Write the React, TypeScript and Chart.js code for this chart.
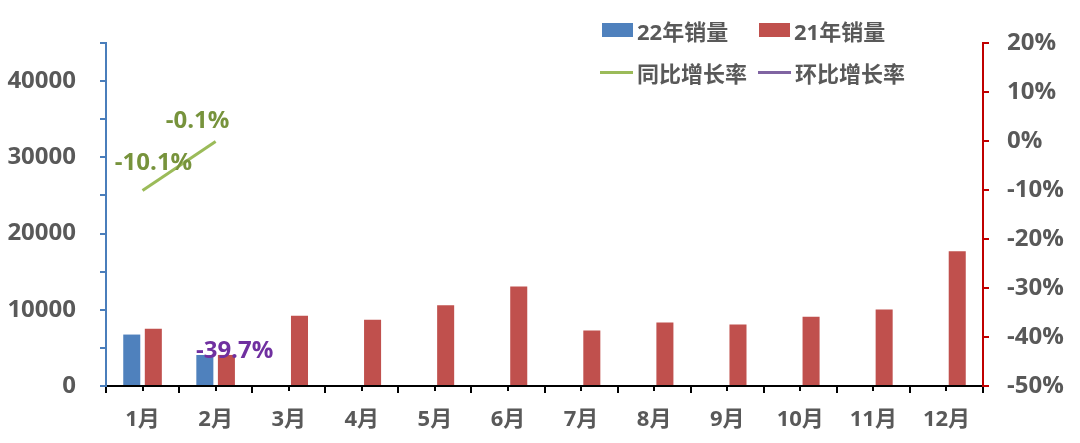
import { useEffect, useRef } from "react";
import { Chart, registerables } from "chart.js";

Chart.register(...registerables);

const FONT = "'Open Sans', 'Noto Sans CJK SC', sans-serif";
const TEXT = "#595959";

const months = ["1月", "2月", "3月", "4月", "5月", "6月", "7月", "8月", "9月", "10月", "11月", "12月"];
const sales22 = [6750, 4070, null, null, null, null, null, null, null, null, null, null];
const sales21 = [7510, 4075, 9210, 8680, 10610, 13070, 7280, 8330, 8070, 9080, 10040, 17670];
const yoyRate = [-10.1, -0.1, null, null, null, null, null, null, null, null, null, null];
const momRate = [null, -39.7, null, null, null, null, null, null, null, null, null, null];

// hand placed label offsets (px) from each point, like the excel original
const labelOffsets: Record<string, [number, number][]> = {
  同比增长率: [[11, -27], [-18, -20]],
  环比增长率: [[0, 0], [19, 16]],
};
const labelColors: Record<string, string> = {
  同比增长率: "#77933C",
  环比增长率: "#7030A0",
};

const rateLabels = {
  id: "rateLabels",
  afterDatasetsDraw(chart: any) {
    const ctx = chart.ctx;
    ctx.save();
    ctx.font = `bold 24px ${FONT}`;
    ctx.textAlign = "center";
    ctx.textBaseline = "middle";
    chart.data.datasets.forEach((ds: any, di: number) => {
      if (ds.type !== "line") return;
      const meta = chart.getDatasetMeta(di);
      ds.data.forEach((v: number | null, i: number) => {
        if (v == null) return;
        const pt = meta.data[i];
        const off = labelOffsets[ds.label][i] || [0, 0];
        ctx.fillStyle = labelColors[ds.label];
        ctx.fillText(v.toFixed(1) + "%", pt.x + off[0], pt.y + off[1]);
      });
    });
    ctx.restore();
  },
};

// short tick marks under each category centre
const centerTicks = {
  id: "centerTicks",
  afterDraw(chart: any) {
    const { ctx, scales } = chart;
    const x = scales.x;
    const y0 = chart.chartArea.bottom;
    ctx.save();
    ctx.strokeStyle = "#000";
    ctx.lineWidth = 2;
    months.forEach((_, i) => {
      const px = Math.round(x.getPixelForValue(i));
      ctx.beginPath();
      ctx.moveTo(px, y0);
      ctx.lineTo(px, y0 + 5);
      ctx.stroke();
    });
    ctx.restore();
  },
};

function Legend() {
  const item = (swatch: React.ReactNode, text: string) => (
    <div style={{ display: "flex", alignItems: "center", height: 28 }}>
      {swatch}
      <span style={{ marginLeft: 4 }}>{text}</span>
    </div>
  );
  const box = (c: string) => <div style={{ width: 31, height: 14, background: c }} />;
  const line = (c: string) => <div style={{ width: 33, height: 3, background: c }} />;
  return (
    <div
      style={{
        position: "absolute",
        left: 600,
        top: 16,
        display: "grid",
        gridTemplateColumns: "158px auto",
        rowGap: 14,
        font: `bold 22px ${FONT}`,
        color: TEXT,
        whiteSpace: "nowrap",
      }}
    >
      {item(<div style={{ marginLeft: 2 }}>{box("#4F81BD")}</div>, "22年销量")}
      {item(<div style={{ marginLeft: 1 }}>{box("#C0504D")}</div>, "21年销量")}
      {item(line("#9BBB59"), "同比增长率")}
      {item(line("#8064A2"), "环比增长率")}
    </div>
  );
}

export default function App() {
  const chartRef = useRef<HTMLCanvasElement>(null);
  const chartInstance = useRef<Chart | null>(null);

  useEffect(() => {
    document.body.style.margin = "0";
    if (!chartRef.current) return;
    if (chartInstance.current) chartInstance.current.destroy();

    const tickFont = { family: FONT, size: 24, weight: "bold" as const };

    chartInstance.current = new Chart(chartRef.current, {
      type: "bar",
      data: {
        labels: months,
        datasets: [
          {
            type: "line",
            label: "同比增长率",
            data: yoyRate,
            yAxisID: "y1",
            borderColor: "#9BBB59",
            borderWidth: 3,
            pointRadius: 0,
            order: 0,
          },
          {
            type: "line",
            label: "环比增长率",
            data: momRate,
            yAxisID: "y1",
            borderColor: "#8064A2",
            borderWidth: 3,
            pointRadius: 0,
            order: 0,
          },
          {
            type: "bar",
            label: "22年销量",
            data: sales22,
            yAxisID: "y",
            backgroundColor: "#4F81BD",
            categoryPercentage: 0.59,
            barPercentage: 0.79,
            order: 1,
          },
          {
            type: "bar",
            label: "21年销量",
            data: sales21,
            yAxisID: "y",
            backgroundColor: "#C0504D",
            categoryPercentage: 0.59,
            barPercentage: 0.79,
            order: 1,
          },
        ] as any,
      },
      options: {
        responsive: false,
        animation: false,
        layout: { padding: { top: 43, left: 0, right: 0, bottom: 0 } },
        scales: {
          x: {
            offset: true,
            grid: {
              offset: true,
              drawOnChartArea: false,
              drawTicks: true,
              tickLength: 7,
              color: "#000",
              lineWidth: 2,
            },
            border: { color: "#000", width: 2 },
            ticks: {
              font: { family: FONT, size: 22, weight: "bold" },
              color: TEXT,
              padding: 14,
              maxRotation: 0,
            },
            afterFit: (s: any) => {
              s.height = 57;
            },
          },
          y: {
            position: "left",
            min: 0,
            max: 45000,
            grid: {
              drawOnChartArea: false,
              tickLength: 6,
              color: "#4A7EBB",
              lineWidth: 2,
            },
            border: { color: "#4A7EBB", width: 2 },
            ticks: {
              stepSize: 5000,
              font: tickFont,
              color: TEXT,
              padding: 24,
              callback: (v: any) => (Number(v) % 10000 === 0 ? String(v) : ""),
            },
            afterFit: (s: any) => {
              s.width = 106;
            },
          },
          y1: {
            position: "right",
            min: -50,
            max: 20,
            grid: {
              drawOnChartArea: false,
              tickLength: 6,
              color: "#C00000",
              lineWidth: 2,
            },
            border: { color: "#C00000", width: 2 },
            ticks: {
              stepSize: 10,
              font: tickFont,
              color: TEXT,
              padding: 18,
              callback: (v: any) => Math.round(Number(v)) + "%",
            },
            afterFit: (s: any) => {
              s.width = 97;
            },
          },
        },
        plugins: {
          legend: { display: false },
          tooltip: { enabled: false },
        },
      },
      plugins: [rateLabels, centerTicks],
    });

    return () => {
      if (chartInstance.current) {
        chartInstance.current.destroy();
        chartInstance.current = null;
      }
    };
  }, []);

  return (
    <div style={{ position: "relative", width: 1080, height: 443, background: "#fff" }}>
      <canvas ref={chartRef} width={1080} height={443} />
      <Legend />
    </div>
  );
}
